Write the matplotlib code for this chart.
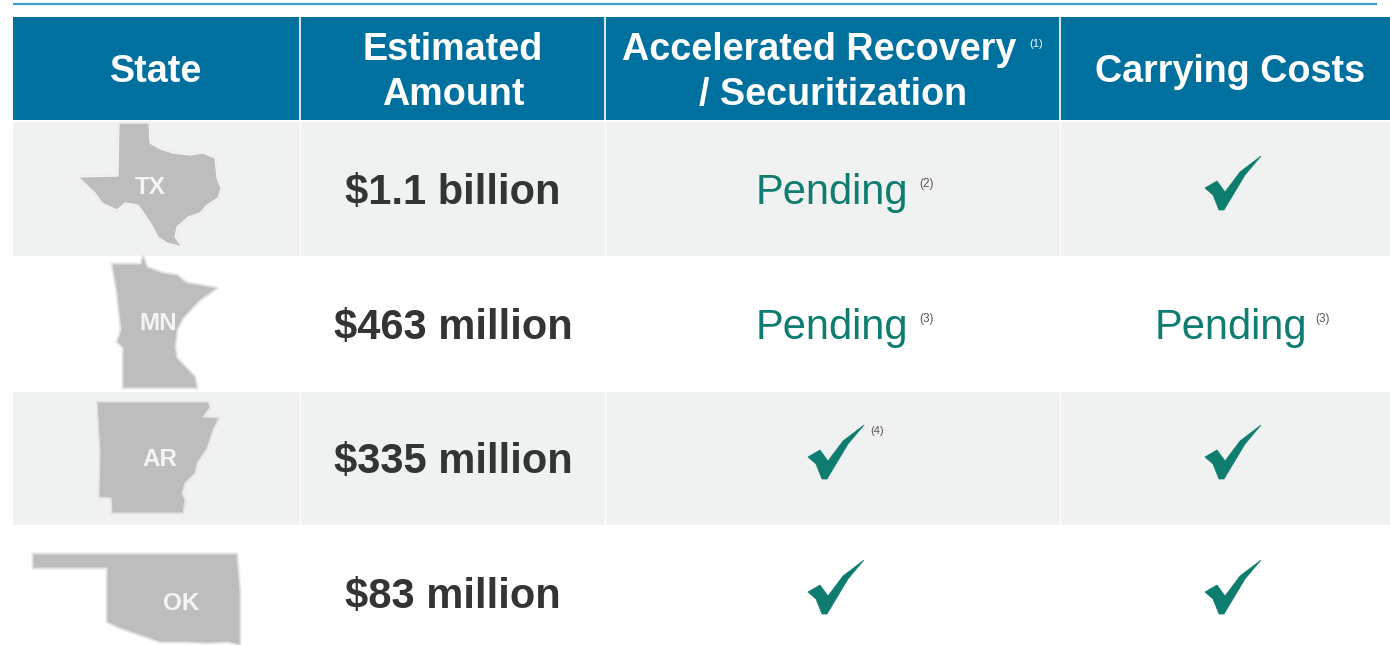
import matplotlib
matplotlib.use('Agg')
import matplotlib.pyplot as plt
from matplotlib.patches import Polygon, Rectangle

plt.rcParams['font.family'] = ['Liberation Sans', 'DejaVu Sans']

states = ['TX', 'MN', 'AR', 'OK']
amounts = ['$1.1 billion', '$463 million', '$335 million', '$83 million']
recovery = ['Pending', 'Pending', 'check', 'check']
recovery_notes = ['(2)', '(3)', '(4)', '']
carrying = ['check', 'Pending', 'check', 'check']
carrying_notes = ['', '(3)', '', '']

# state outlines in pixels
tx_shape = [(119, 123), (149, 123), (150, 143), (160, 149), (173, 153), (190, 155), (203, 153),
            (215, 158), (217, 178), (221, 188), (218, 198), (207, 205), (200, 213), (188, 217),
            (177, 227), (175, 237), (182, 247), (167, 243), (158, 237), (150, 222), (138, 205),
            (125, 203), (117, 210), (102, 203), (95, 193), (78, 177), (118, 176)]
mn_shape = [(112, 264), (141, 264), (143, 256), (147, 267), (163, 273), (177, 275), (187, 283),
            (200, 285), (217, 288), (200, 300), (183, 318), (177, 330), (175, 347), (177, 358),
            (195, 377), (197, 388), (123, 388), (123, 348), (117, 342), (121, 330), (117, 293)]
ar_shape = [(97, 402), (208, 402), (210, 407), (203, 417), (219, 418), (213, 430), (207, 448),
            (197, 463), (195, 473), (185, 483), (182, 493), (185, 500), (183, 513), (112, 513),
            (111, 498), (99, 497), (100, 452)]
ok_shape = [(33, 554), (237, 554), (240, 592), (240, 645), (227, 642), (207, 643), (187, 642),
            (160, 642), (140, 635), (120, 628), (107, 622), (107, 568), (33, 568)]
shapes = [tx_shape, mn_shape, ar_shape, ok_shape]
label_pos = [(150, 188), (158, 324), (160, 460), (181, 604)]

HEADER = '#00709f'
TEAL = '#0e7c6f'
DARK = '#333535'
ROW_GRAY = '#f0f1f1'
STATE_GRAY = '#bdbdbd'

col_edges = [13, 300, 605, 1060, 1390]
row_edges = [121, 256, 391, 525, 645]
row_mid = [190, 325, 459, 594]
check_x = [836, 1233]


def draw_check(ax, cx, cy):
    pts = [(-28, -2), (-16, -9), (-8, 2), (7, -18), (28, -34), (12, -15), (-9, 20), (-14, 20), (-20, 5)]
    ax.add_patch(Polygon([(cx + x, cy + y) for x, y in pts], closed=True, fc=TEAL, ec=TEAL, lw=0.5, zorder=4))


def draw_status(ax, col, cy, status, note):
    cx = check_x[col]
    if status == 'check':
        draw_check(ax, cx, cy)
        if note:
            ax.text(cx + 41, cy - 28, note, fontsize=8, color='#555555', ha='center', va='center')
    else:
        px = [832, 1231][col]
        ax.text(px, cy + 3, status, fontsize=30, color=TEAL, ha='center', va='center', zorder=4)
        ax.text(px + 95 - 4 * col, cy - 6, note, fontsize=8.5, color='#555555', ha='center', va='center')


fig = plt.figure(figsize=(13.9, 6.45), dpi=100)
ax = fig.add_axes([0, 0, 1, 1])
ax.set_xlim(0, 1390)
ax.set_ylim(645, 0)
ax.axis('off')

ax.plot([13, 1377], [4, 4], color='#3f9fc0', lw=1.6, solid_capstyle='butt')

# header
ax.add_patch(Rectangle((13, 17), 1377, 103, fc=HEADER, ec='none'))
for x in col_edges[1:-1]:
    ax.plot([x, x], [17, 120], color='#d5e8f0', lw=1.5, solid_capstyle='butt')
head = dict(color='white', fontsize=27.2, fontweight='bold', ha='center', va='center')
ax.text(156, 72, 'State', **head)
ax.text(453, 50, 'Estimated', **head)
ax.text(453, 95, 'Amount', **head)
ax.text(819, 50, 'Accelerated Recovery', **head)
ax.text(1036, 44, '(1)', color='white', fontsize=8, ha='center', va='center')
ax.text(833, 95, '/ Securitization', **head)
ax.text(1230, 72, 'Carrying Costs', **head)

# rows
for i in range(len(states)):
    top, bottom = row_edges[i], row_edges[i + 1]
    if i % 2 == 0:
        ax.add_patch(Rectangle((13, top + 1), 1377, bottom - top - 1, fc=ROW_GRAY, ec='none', zorder=1))
        for x in col_edges[1:-1]:
            ax.plot([x, x], [top + 1, bottom], color='white', lw=1, zorder=1.5, solid_capstyle='butt')
    # soft shadow, then the state itself
    ax.add_patch(Polygon(shapes[i], closed=True, fc='none', ec='#ececec', lw=2.5, joinstyle='round', zorder=2))
    ax.add_patch(Polygon(shapes[i], closed=True, fc=STATE_GRAY, ec='#f7f7f7' if i == 0 else '#dedede', lw=0.8,
                         joinstyle='round', zorder=3))
    ax.text(label_pos[i][0], label_pos[i][1], states[i], color='#f4f4f4', fontsize=17.5, fontweight='bold',
            ha='center', va='center', zorder=4)
    ax.text(453, row_mid[i] + 3, amounts[i], color=DARK, fontsize=30, fontweight='bold', ha='center', va='center', zorder=4)
    draw_status(ax, 0, row_mid[i], recovery[i], recovery_notes[i])
    draw_status(ax, 1, row_mid[i], carrying[i], carrying_notes[i])

fig.savefig('out.png', dpi=100)
